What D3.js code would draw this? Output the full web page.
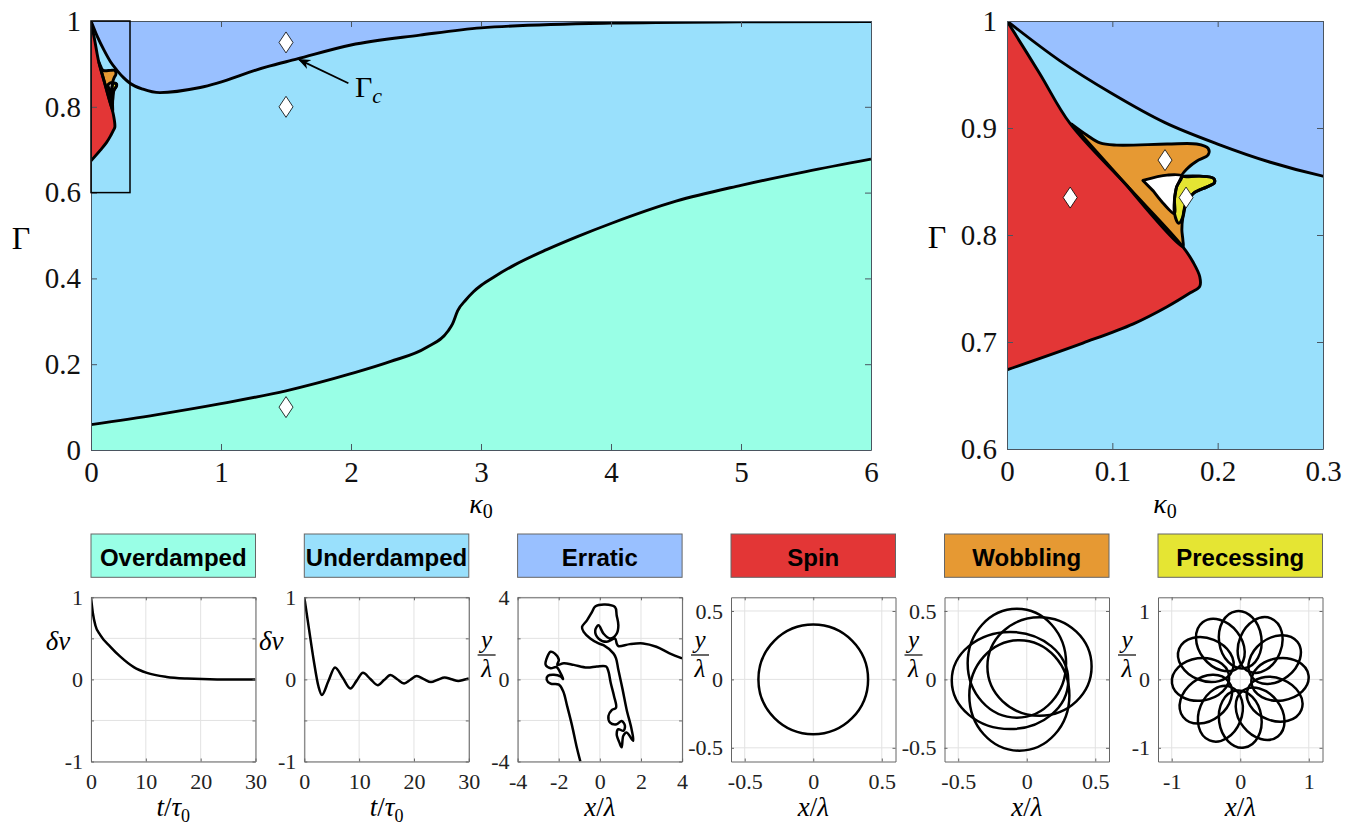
<!DOCTYPE html>
<html>
<head>
<meta charset="utf-8">
<script src="https://cdn.jsdelivr.net/npm/d3@7"></script>
<style>
  body { margin: 0; background: #fff; }
  svg { display: block; font-family: "Liberation Serif", "Times New Roman", serif; }
  svg text { font-family: "Liberation Serif", "Times New Roman", serif; }
  svg text.title { font-family: "Liberation Sans", Arial, sans-serif; font-weight: bold; }
</style>
</head>
<body>
<svg id="fig" width="1352" height="826"></svg>
<script>
// ---------- phase diagram data (kappa0, Gamma) ----------
const gcK = [0, 0.05, 0.1, 0.15, 0.2, 0.25, 0.3, 0.4, 0.53, 0.84, 1.35, 1.58, 2.0, 2.53, 3, 4, 5, 6];
const gcG = [1, 0.963, 0.932, 0.905, 0.885, 0.868, 0.855, 0.841, 0.833, 0.845, 0.893, 0.911, 0.944, 0.967, 0.984, 0.995, 0.998, 0.999];

const odK = [0, 0.5, 1, 1.5, 2, 2.3, 2.58, 2.748, 2.781, 2.821, 2.881, 2.942, 3.002, 3.103, 3.256, 3.505, 3.746, 4, 4.5, 5, 5.5, 6];
const odG = [0.059, 0.082, 0.108, 0.138, 0.178, 0.206, 0.239, 0.278, 0.294, 0.325, 0.349, 0.369, 0.384, 0.404, 0.431, 0.467, 0.498, 0.528, 0.580, 0.617, 0.649, 0.678];

const spinK = [0, 0.031, 0.060, 0.114, 0.167, 0.177, 0.183, 0.183, 0.174, 0.152, 0.120, 0.072, 0];
const spinG = [1, 0.951, 0.904, 0.846, 0.789, 0.774, 0.761, 0.752, 0.746, 0.733, 0.717, 0.699, 0.674];

const wobK = [0.0614, 0.0757, 0.0883, 0.104, 0.152, 0.180, 0.191, 0.191, 0.180, 0.171, 0.166, 0.183, 0.196, 0.197, 0.190, 0.177, 0.170, 0.167, 0.166, 0.167, 0.167, 0.114];
const wobG = [0.9037, 0.8935, 0.886, 0.884, 0.885, 0.885, 0.881, 0.875, 0.869, 0.862, 0.855, 0.855, 0.853, 0.849, 0.845, 0.839, 0.830, 0.817, 0.805, 0.795, 0.789, 0.846];

const holeK = [0.129, 0.152, 0.166, 0.161, 0.159, 0.159, 0.148, 0.139];
const holeG = [0.851, 0.856, 0.855, 0.845, 0.833, 0.820, 0.830, 0.841];

const precK = [0.166, 0.183, 0.196, 0.197, 0.190, 0.177, 0.170, 0.167, 0.163, 0.159, 0.159, 0.161];
const precG = [0.855, 0.855, 0.853, 0.849, 0.845, 0.839, 0.830, 0.817, 0.811, 0.820, 0.833, 0.845];

const mainMarks = [[1.5, 0.95], [1.5, 0.8], [1.5, 0.1]];
const insetMarks = [[0.06, 0.835], [0.15, 0.87], [0.17, 0.835]];
const gcArrow = [[1.98, 0.855], [1.6, 0.91]];   // tail, head
const gcLabel = [2.03, 0.822];

const mainXTicks = [0, 1, 2, 3, 4, 5, 6];
const mainYTicks = [0, 0.2, 0.4, 0.6, 0.8, 1];
const insetXTicks = [0, 0.1, 0.2, 0.3];
const insetYTicks = [0.6, 0.7, 0.8, 0.9, 1];

// ---------- trajectories ----------
const odT = [0, 0.36, 0.79, 1.7, 3.5, 5.3, 7.8, 10.2, 13.8, 17.5, 23, 30];
const odV = [1, 0.80, 0.66, 0.54, 0.40, 0.28, 0.15, 0.08, 0.03, 0.01, 0.0, 0.0];

const udT = [0, 0.8, 1.7, 2.6, 3.2, 4.4, 5.6, 7.0, 8.4, 9.55, 10.7, 12.05, 13.4, 14.55, 15.7, 16.95, 18.2, 19.35, 20.5, 21.8, 23.1, 24.35, 25.6, 26.85, 28.1, 29.1, 30];
const udV = [1, 0.64, 0.24, -0.09, -0.19, -0.02, 0.146, 0.02, -0.11, -0.015, 0.08, 0.005, -0.07, -0.008, 0.053, 0.002, -0.049, -0.004, 0.04, 0.003, -0.033, -0.004, 0.024, 0.002, -0.02, -0.005, 0.01];

const erX = [-0.948, -1.141, -1.349, -1.590, -1.783, -1.992, -2.394, -2.586, -2.522, -2.233, -1.912, -1.783, -1.912, -2.104, -2.394, -2.635, -2.554, -2.394, -2.201, -1.992, -2.072, -1.751, -1.269, -0.627, -0.145, 0.305, 0.418, 0.530, 0.691, 0.787, 0.578, 0.418, 0.498, 0.819, 1.060, 1.221, 1.141, 0.900, 0.819, 0.948, 1.060, 1.141, 1.301, 1.622, 1.542, 1.301, 1.108, 0.900, 0.787, 0.659, 0.177, -0.064, -0.466, -0.787, -0.867, -0.627, -0.386, -0.225, 0.257, 0.739, 0.819, 0.900, 0.819, 0.498, 0.177, -0.064, -0.225, -0.064, 0.337, 0.739, 0.819, 0.900, 1.462, 2.104, 2.747, 3.390, 4.0];
const erY = [-4.0, -3.229, -2.265, -1.301, -0.578, -0.257, -0.209, -0.016, 0.177, 0.225, 0.145, 0.016, 0.305, 0.594, 0.546, 0.707, 1.108, 1.349, 1.269, 0.948, 0.707, 0.787, 0.707, 0.578, 0.627, 0.627, 0.386, -0.177, -0.819, -1.382, -1.494, -1.783, -2.104, -2.185, -2.024, -2.265, -2.506, -2.426, -2.667, -3.068, -3.309, -2.747, -2.586, -2.988, -2.426, -1.462, -0.498, 0.466, 1.028, 1.269, 1.671, 1.751, 1.992, 2.313, 2.554, 2.876, 3.277, 3.550, 3.647, 3.518, 3.116, 2.635, 2.233, 1.992, 2.233, 2.635, 2.394, 1.992, 1.831, 1.992, 1.751, 1.622, 1.719, 1.751, 1.590, 1.269, 1.028];

const spinR = 0.4;

const wobCx = [-0.072, 0.093, -0.054, -0.122];
const wobCy = [0.118, 0.094, -0.117, -0.008];
const wobRx = [0.359, 0.38, 0.365, 0.425];
const wobRy = [0.398, 0.36, 0.404, 0.355];

const petalAngles = [0, 30, 60, 90, 120, 150, 180, 210, 240, 270, 300, 330];
const petalDist = 0.58, petalA = 0.42, petalB = 0.31, petalTilt = 8;

const panelTitles = ["Overdamped", "Underdamped", "Erratic", "Spin", "Wobbling", "Precessing"];

const COL = {
    over: "#99ffe6",
    under: "#99e0fc",
    erratic: "#99c0ff",
    spin: "#e33636",
    wobble: "#e69933",
    precess: "#e5e533"
};
const panelColors = [COL.over, COL.under, COL.erratic, COL.spin, COL.wobble, COL.precess];
const SERIF = "'Liberation Serif', 'Times New Roman', serif";

const svg = d3.select("#fig");
const defs = svg.append("defs");
defs.append("marker").attr("id", "arrow")
    .attr("viewBox", "0 0 10 10").attr("refX", 9).attr("refY", 5)
    .attr("markerWidth", 7).attr("markerHeight", 7).attr("orient", "auto")
    .append("path").attr("d", "M0,1 L10,5 L0,9 L3,5 Z").attr("fill", "#000");

const pts = (a, b) => d3.zip(a, b);

// ---------- phase diagram panel ----------
function phasePanel(box, xDom, yDom, xTicks, yTicks, marks) {
    const x = d3.scaleLinear().domain(xDom).range([box.l, box.r]);
    const y = d3.scaleLinear().domain(yDom).range([box.b, box.t]);
    const clipId = "clip" + Math.round(box.l);
    defs.append("clipPath").attr("id", clipId).append("rect")
        .attr("x", box.l).attr("y", box.t).attr("width", box.r - box.l).attr("height", box.b - box.t);

    const g = svg.append("g").attr("clip-path", `url(#${clipId})`);
    const lw = 2.9;

    g.append("rect").attr("x", box.l).attr("y", box.t)
        .attr("width", box.r - box.l).attr("height", box.b - box.t).attr("fill", COL.under);

    const smooth = d3.line().x(d => x(d[0])).y(d => y(d[1])).curve(d3.curveMonotoneX);
    const rounded = d3.line().x(d => x(d[0])).y(d => y(d[1])).curve(d3.curveCatmullRom.alpha(0.5));

    g.append("path").datum(pts(odK, odG))
        .attr("d", d3.area().x(d => x(d[0])).y0(box.b + 10).y1(d => y(d[1])).curve(d3.curveMonotoneX))
        .attr("fill", COL.over);
    g.append("path").datum(pts(gcK, gcG))
        .attr("d", d3.area().x(d => x(d[0])).y0(box.t - 10).y1(d => y(d[1])).curve(d3.curveMonotoneX))
        .attr("fill", COL.erratic);

    const spin = pts(spinK, spinG);
    g.append("path").attr("d", rounded(spin) + "Z").attr("fill", COL.spin);
    g.append("path").attr("d", rounded(pts(wobK, wobG)) + "Z").attr("fill", COL.wobble);
    g.append("path").attr("d", rounded(pts(holeK, holeG)) + "Z").attr("fill", "#fff");
    g.append("path").attr("d", rounded(pts(precK, precG)) + "Z").attr("fill", COL.precess);

    const lines = g.append("g").attr("fill", "none").attr("stroke", "#000")
        .attr("stroke-width", lw).attr("stroke-linejoin", "round");
    lines.append("path").attr("d", smooth(pts(odK, odG)));
    lines.append("path").attr("d", smooth(pts(gcK, gcG)));
    lines.append("path").attr("d", rounded(spin));
    lines.append("path").attr("d", rounded(pts(wobK, wobG)) + "Z");
    lines.append("path").attr("d", rounded(pts(holeK, holeG)) + "Z");
    lines.append("path").attr("d", rounded(pts(precK, precG)) + "Z");

    g.selectAll(".mark").data(marks).join("path")
        .attr("d", d => {
            const cx = x(d[0]), cy = y(d[1]), hw = 7, hh = 10.5;
            return `M${cx},${cy - hh}L${cx + hw},${cy}L${cx},${cy + hh}L${cx - hw},${cy}Z`;
        })
        .attr("fill", "#fff").attr("stroke", "#000").attr("stroke-width", 0.8);

    // axes, MATLAB style: ticks inside on all four sides
    const fmt = d => String(+d.toFixed(2));
    const ax = svg.append("g");
    ax.append("g").attr("transform", `translate(0,${box.b})`)
        .call(d3.axisBottom(x).tickValues(xTicks).tickFormat(fmt).tickSize(-6).tickSizeOuter(0).tickPadding(11));
    ax.append("g").attr("transform", `translate(0,${box.t})`)
        .call(d3.axisTop(x).tickValues(xTicks).tickFormat("").tickSize(-6).tickSizeOuter(0));
    ax.append("g").attr("transform", `translate(${box.l},0)`)
        .call(d3.axisLeft(y).tickValues(yTicks).tickFormat(fmt).tickSize(-6).tickSizeOuter(0).tickPadding(10));
    ax.append("g").attr("transform", `translate(${box.r},0)`)
        .call(d3.axisRight(y).tickValues(yTicks).tickFormat("").tickSize(-6).tickSizeOuter(0));
    ax.selectAll("g").attr("font-size", 29);
    ax.selectAll("text").style("font-family", SERIF).attr("fill", "#111");
    ax.selectAll(".domain, .tick line").attr("stroke", "#4a5560").attr("stroke-width", 1);

    // axis titles
    svg.append("text").attr("x", box.l - 70).attr("y", (box.t + box.b) / 2 + 13)
        .attr("text-anchor", "middle").attr("font-size", 32).text("Γ");
    const kl = svg.append("text").attr("x", (box.l + box.r) / 2).attr("y", 513)
        .attr("text-anchor", "middle").attr("font-size", 28);
    kl.append("tspan").attr("font-style", "italic").text("κ");
    kl.append("tspan").attr("font-size", 20).attr("dy", 5).text("0");

    return { x, y };
}

const main = phasePanel({ l: 91, r: 871, t: 21, b: 450 }, [0, 6], [0, 1], mainXTicks, mainYTicks, mainMarks);
const inset = phasePanel({ l: 1007, r: 1323, t: 21, b: 449 }, [0, 0.3], [0.6, 1], insetXTicks, insetYTicks, insetMarks);

// zoom box marking the inset region
svg.append("rect")
    .attr("x", main.x(insetXTicks[0])).attr("y", main.y(insetYTicks[insetYTicks.length - 1]))
    .attr("width", main.x(insetXTicks[insetXTicks.length - 1]) - main.x(insetXTicks[0]))
    .attr("height", main.y(insetYTicks[0]) - main.y(insetYTicks[insetYTicks.length - 1]))
    .attr("fill", "none").attr("stroke", "#000").attr("stroke-width", 1.5);

// Gamma_c annotation
svg.append("line")
    .attr("x1", main.x(gcArrow[0][0])).attr("y1", main.y(gcArrow[0][1]))
    .attr("x2", main.x(gcArrow[1][0])).attr("y2", main.y(gcArrow[1][1]))
    .attr("stroke", "#000").attr("stroke-width", 1.8).attr("marker-end", "url(#arrow)");
const gcT = svg.append("text").attr("x", main.x(gcLabel[0])).attr("y", main.y(gcLabel[1])).attr("font-size", 30);
gcT.append("tspan").text("Γ");
gcT.append("tspan").attr("font-style", "italic").attr("font-size", 22).attr("dy", 6).text("c");

// ---------- bottom row ----------
const lefts = [91, 304.3, 517.6, 731, 944.5, 1158];
const PW = 164.5, PT = 597.3, PB = 761.5;

function label(sel, parts) {
    parts.forEach(p => {
        const t = sel.append("tspan").text(p[0]);
        if (p[1] === "i") t.attr("font-style", "italic");
        if (p[1] === "s") t.attr("font-size", 18).attr("dy", 6);
    });
}

function trajPanel(i, xDom, yDom, xTicks, yTicks, yLabelVals, yKind, draw) {
    const l = lefts[i], r = l + PW;
    const x = d3.scaleLinear().domain(xDom).range([l, r]);
    const y = d3.scaleLinear().domain(yDom).range([PB, PT]);

    // title box
    svg.append("rect").attr("x", l).attr("y", 534).attr("width", PW).attr("height", 43.3)
        .attr("fill", panelColors[i]).attr("stroke", "#666").attr("stroke-width", 1);
    svg.append("text").attr("class", "title").attr("x", l + PW / 2).attr("y", 566).attr("text-anchor", "middle")
        .attr("font-size", 24).attr("fill", "#000").text(panelTitles[i]);

    svg.append("rect").attr("x", l).attr("y", PT).attr("width", PW).attr("height", PB - PT).attr("fill", "#fff");

    const grid = svg.append("g").attr("stroke", "#e2e2e2").attr("stroke-width", 1);
    grid.selectAll(".gx").data(xTicks).join("line")
        .attr("x1", d => x(d)).attr("x2", d => x(d)).attr("y1", PT).attr("y2", PB);
    grid.selectAll(".gy").data(yTicks).join("line")
        .attr("y1", d => y(d)).attr("y2", d => y(d)).attr("x1", l).attr("x2", r);

    const clipId = "pclip" + i;
    defs.append("clipPath").attr("id", clipId).append("rect")
        .attr("x", l).attr("y", PT).attr("width", PW).attr("height", PB - PT);
    const g = svg.append("g").attr("clip-path", `url(#${clipId})`)
        .attr("fill", "none").attr("stroke", "#000").attr("stroke-width", 2.5).attr("stroke-linejoin", "round");
    draw(g, x, y);

    const fmt = d => String(+d.toFixed(2));
    const yfmt = d => yLabelVals.includes(d) ? fmt(d) : "";
    const ax = svg.append("g");
    ax.append("g").attr("transform", `translate(0,${PB})`)
        .call(d3.axisBottom(x).tickValues(xTicks).tickFormat(fmt).tickSize(-3).tickSizeOuter(0).tickPadding(12));
    ax.append("g").attr("transform", `translate(0,${PT})`)
        .call(d3.axisTop(x).tickValues(xTicks).tickFormat("").tickSize(-3).tickSizeOuter(0));
    ax.append("g").attr("transform", `translate(${l},0)`)
        .call(d3.axisLeft(y).tickValues(yTicks).tickFormat(yfmt).tickSize(-3).tickSizeOuter(0).tickPadding(8));
    ax.append("g").attr("transform", `translate(${r},0)`)
        .call(d3.axisRight(y).tickValues(yTicks).tickFormat("").tickSize(-3).tickSizeOuter(0));
    ax.selectAll("g").attr("font-size", 22);
    ax.selectAll("text").style("font-family", SERIF).attr("fill", "#222");
    ax.selectAll(".domain, .tick line").attr("stroke", "#666").attr("stroke-width", 1);

    // axis titles
    const cx = l + PW / 2;
    const xl = svg.append("text").attr("x", cx).attr("y", 816).attr("text-anchor", "middle").attr("font-size", 27);
    if (yKind === "dv") {
        label(xl, [["t", "i"], ["/", ""], ["τ", "i"], ["0", "s"]]);
        svg.append("text").attr("x", l - 33).attr("y", 650).attr("text-anchor", "middle")
            .attr("font-size", 27).attr("font-style", "italic").text("δv");
    } else {
        label(xl, [["x", "i"], ["/", ""], ["λ", "i"]]);
        const fx = l - 31;
        svg.append("text").attr("x", fx).attr("y", 648).attr("text-anchor", "middle")
            .attr("font-size", 25).attr("font-style", "italic").text("y");
        svg.append("line").attr("x1", fx - 9).attr("x2", fx + 9).attr("y1", 655).attr("y2", 655)
            .attr("stroke", "#000").attr("stroke-width", 1.2);
        svg.append("text").attr("x", fx).attr("y", 677).attr("text-anchor", "middle")
            .attr("font-size", 25).attr("font-style", "italic").text("λ");
    }
}

const lineXY = (x, y, curve) => d3.line().x(d => x(d[0])).y(d => y(d[1])).curve(curve);
const rad = d => d * Math.PI / 180;

trajPanel(0, [0, 30], [-1, 1], [0, 10, 20, 30], [-1, -0.5, 0, 0.5, 1], [-1, 0, 1], "dv",
    (g, x, y) => g.append("path").attr("d", lineXY(x, y, d3.curveMonotoneX)(pts(odT, odV))));
trajPanel(1, [0, 30], [-1, 1], [0, 10, 20, 30], [-1, -0.5, 0, 0.5, 1], [-1, 0, 1], "dv",
    (g, x, y) => g.append("path").attr("d", lineXY(x, y, d3.curveMonotoneX)(pts(udT, udV))));
trajPanel(2, [-4, 4], [-4, 4], [-4, -2, 0, 2, 4], [-4, -2, 0, 2, 4], [-4, 0, 4], "xy",
    (g, x, y) => g.append("path").attr("d", lineXY(x, y, d3.curveCatmullRom.alpha(0.5))(pts(erX, erY))));
trajPanel(3, [-0.6, 0.6], [-0.6, 0.6], [-0.5, 0, 0.5], [-0.5, 0, 0.5], [-0.5, 0, 0.5], "xy",
    (g, x, y) => g.append("circle").attr("cx", x(0)).attr("cy", y(0)).attr("r", x(spinR) - x(0)));
trajPanel(4, [-0.6, 0.6], [-0.6, 0.6], [-0.5, 0, 0.5], [-0.5, 0, 0.5], [-0.5, 0, 0.5], "xy",
    (g, x, y) => {
        g.selectAll("ellipse").data(wobCx).join("ellipse")
            .attr("cx", (d, k) => x(wobCx[k])).attr("cy", (d, k) => y(wobCy[k]))
            .attr("rx", (d, k) => x(wobRx[k]) - x(0)).attr("ry", (d, k) => y(0) - y(wobRy[k]));
    });
trajPanel(5, [-1.2, 1.2], [-1.2, 1.2], [-1, 0, 1], [-1, 0, 1], [-1, 0, 1], "xy",
    (g, x, y) => {
        const px = d => x(petalDist * Math.cos(rad(d)));
        const py = d => y(petalDist * Math.sin(rad(d)));
        g.selectAll("ellipse").data(petalAngles).join("ellipse")
            .attr("cx", px).attr("cy", py)
            .attr("rx", x(petalA) - x(0)).attr("ry", x(petalB) - x(0))
            .attr("transform", d => `rotate(${-(d + petalTilt)},${px(d)},${py(d)})`);
    });
</script>
</body>
</html>
